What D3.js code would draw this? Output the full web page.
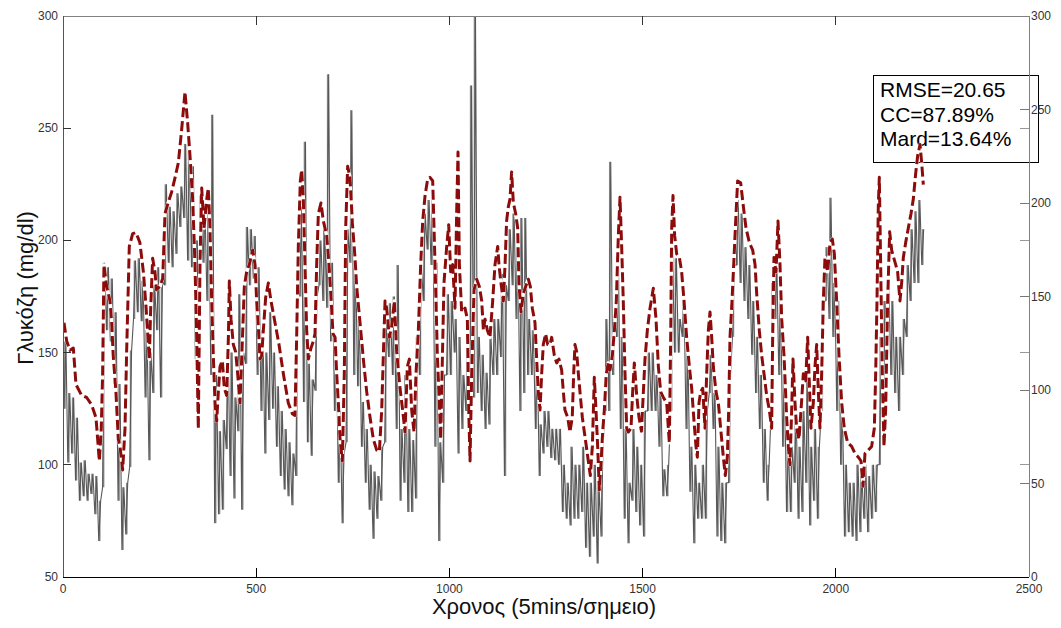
<!DOCTYPE html>
<html>
<head>
<meta charset="utf-8">
<script src="https://cdn.jsdelivr.net/npm/d3@7/dist/d3.min.js"></script>
<style>
  html, body { margin: 0; padding: 0; background: #fff; }
  svg { display: block; }
  text { font-family: Arial, "Liberation Sans", sans-serif; }
</style>
</head>
<body>
<svg id="chart" width="1061" height="628"></svg>
<script>
// Sampling step of the measured CGM trace (in samples, 5 minutes each)
const binStep = 10;

// Measured glucose: lower / upper envelope of each 10-sample bin (mg/dl)
const measuredLow = [
  125,101,105,93,84,86,84,87,78,66, 90,160,155,136,84,62,69,99,165,168,
  164,130,102,132,160,130,180,190,188,194, 206,210,191,188,147,150,190,173,140,74,
  78,80,107,95,85,115,80,145,180,183, 140,124,105,120,125,108,95,89,86,82,
  95,175,128,110,104,133,180,173,170,155, 124,92,74,110,190,140,135,108,92,80,
  67,76,84,110,148,140,116,84,92,79, 79,85,140,173,196,189,108,66,92,140,
  140,150,105,116,124,120,130,132,124,116, 118,140,140,148,95,173,180,165,124,132,
  140,140,116,95,105,108,103,102,100,79, 76,73,76,76,79,63,59,68,56,68,
  124,124,140,157,116,76,65,84,79,73, 68,124,124,124,108,86,86,124,150,150,
  157,116,88,65,76,76,76,132,116,68, 66,65,92,157,189,181,173,165,149,132,
  116,92,84,124,165,140,108,79,79,92, 76,79,92,73,84,76,124,173,165,157,
  124,100,68,70,68,66,70,76,70,76, 79,100,124,157,140,132,124,140,157,173,
  181,181,189
];
const measuredHigh = [
  155,132,130,121,101,102,96,96,95,84, 190,188,183,168,136,90,92,151,191,192,
  182,160,150,180,188,182,225,215,213,221, 224,243,243,233,200,220,215,218,256,140,
  115,120,150,150,130,176,150,206,205,202, 188,160,150,168,150,135,124,116,110,105,
  180,215,244,145,138,175,200,205,274,190, 157,124,105,205,258,190,165,128,116,100,
  97,95,108,165,172,175,189,116,140,116, 111,157,189,212,218,218,190,110,140,176,
  173,165,157,140,157,269,300,157,149,141, 157,165,165,185,180,205,212,197,210,210,
  165,160,150,118,124,124,116,116,116,100, 92,108,100,100,108,92,92,100,90,108,
  165,235,165,189,157,116,92,116,108,100, 124,150,150,140,132,98,100,197,192,165,
  173,150,108,100,92,100,124,149,132,108, 92,92,140,189,218,212,197,189,173,157,
  140,116,100,181,189,173,140,108,108,124, 108,124,140,108,116,108,173,197,219,181,
  173,124,100,92,92,100,95,100,95,100, 100,157,173,181,173,157,157,165,189,205,
  213,218,205
];

// Model prediction: [sample index, glucose mg/dl]
const predicted = [
  [2.6,163.3],[9.5,155.2],[18,151],[26.7,152],[33.6,135.8],[48.3,130.9],[61.2,130],[74,126.8],[85.4,121],[94,101.7],
  [99,116],[102.6,140.6],[106,189],[113,179.5],[121.6,173],[126,163.3],[130,148.6],[137,132.5],[143.2,111.4],[147.5,108.2],
  [154.4,97.7],[160.4,116],[164.7,150.3],[171.6,197.3],[180.3,203],[189,203.5],[199,199],[208,186],[215,170],[221,153.6],
  [223.4,147],[227,170],[232,192],[238,186],[242,178],[251,179.5],[258,183],[264,212],[272.6,217],[281.2,221.6],
  [290,228],[298.5,234.6],[307,249.2],[315.7,266.2],[322.6,252.4],[328.6,237.8],[335.6,218.4],[341.6,189.2],[346,156.8],[350.2,116],
  [354.5,189.2],[359,223.3],[365,205.5],[372,218.4],[376,223.3],[380.4,205.5],[384.8,173],[389,148.6],[393.4,127.6],[397.7,119.4],
  [402,132.5],[406.3,143.8],[412.4,146.4],[417.5,134.1],[423.6,130.9],[428,156.8],[430.5,181.9],[434.8,164.9],[440.8,153.6],[446.9,150.3],
  [452,140.6],[458,127.6],[462.4,147.1],[469.3,179.5],[475.3,186],[482.2,189.2],[490.9,195.7],[497,189.2],[501.2,173],[505.5,161.7],
  [509.8,147.1],[514.2,148.7],[518.5,160],[524.5,174.6],[531.4,181],[538.3,173],[548.7,163.3],[559,153.6],[570.3,140.6],[583,127.6],
  [593.5,122.8],[600.4,122],[604.7,156.8],[609,197.3],[614.2,226.5],[617.7,231.4],[622,218.4],[626.3,189.2],[630.6,160],[635,147.1],
  [641.8,152],[648,155.2],[652.2,158.4],[656.5,189.2],[660.8,211.9],[667.7,216.7],[673.8,208.6],[682.4,202.2],[688.4,189.2],[693.6,174.6],
  [698.8,158.4],[704,156.8],[708.3,140.6],[712.6,127.6],[717,111.4],[723,101.7],[728,140.6],[731.6,205.5],[736.7,233],[742.8,228],
  [748.8,208],[755.7,192.4],[760,179.5],[768.7,163.3],[777.3,147.1],[786,132.5],[794.6,121.2],[803.2,111.4],[811.8,106.6],[818.7,105.8],
  [824.8,124.4],[829,148.7],[833.4,173],[837.7,169.8],[844.6,156.8],[850.6,161.7],[857.5,173],[863.6,150.3],[872.2,134.1],[879,124.4],
  [885.1,114.6],[891.2,143.8],[896.4,147.1],[902.4,124.4],[908.4,114.6],[913.6,140.6],[919.7,160],[925.7,189.2],[930.9,208.6],[937,220],
  [943,226.5],[949.8,228.1],[956.8,226.5],[960.2,205.5],[965.4,173],[968.8,148.7],[974,127.6],[977.5,111.4],[981,140.6],[986,181.1],
  [993,197.3],[998.2,207],[1003.3,186],[1008.5,189.2],[1014.5,169.8],[1018.9,213.5],[1022.3,239.4],[1025.8,189.2],[1031.8,168.1],[1040.4,169.8],
  [1046.5,164.9],[1050,124.4],[1053.4,101.7],[1057.7,140.6],[1063.7,177.9],[1070.6,182.7],[1077.5,179.5],[1083.6,173],[1088,160],[1092.2,164.9],
  [1098.2,160],[1105,156.8],[1112,173],[1118,189.2],[1125,197.3],[1128.4,189],[1133.5,181],[1139.6,173],[1144,189],[1148,208.6],
  [1152.5,215],[1156.8,218.4],[1161,230.5],[1165.5,216.8],[1171.5,211.9],[1176.7,205.5],[1180,181],[1185.3,168.1],[1191.3,176.2],[1197.4,179.5],
  [1204.3,182.7],[1209.4,179.5],[1214.6,169.8],[1221.5,163.3],[1225.8,147.1],[1230,132.5],[1234.5,124.4],[1238.8,140.6],[1243,153.6],[1249,158.4],
  [1254.3,153.6],[1260.3,153.6],[1264.7,156.8],[1271.6,148.7],[1277.6,145.4],[1283.6,147.1],[1290.5,142.2],[1294.9,132.5],[1299,124.4],[1306,121.2],
  [1312,114.6],[1318,121.2],[1321.6,140.6],[1325,153.6],[1329.4,150.3],[1333.7,140.6],[1338.8,130.9],[1344,121.2],[1349.2,114.6],[1354.4,108.2],
  [1359.5,101.7],[1364.7,95.2],[1370,108.2],[1375,139],[1379.4,124.4],[1383.7,108.2],[1388,88.8],[1392.3,100],[1396.6,114.6],[1401,124.4],
  [1406,140.6],[1411.3,145.4],[1415.6,142.2],[1421.7,148.7],[1427,160],[1432,173],[1437.2,202.2],[1441.5,219.2],[1445.8,197.3],[1450,173],
  [1454.5,140.6],[1458.8,116.3],[1463,114.6],[1470,116.3],[1474.3,132.5],[1478.6,145.4],[1484.7,130.9],[1490.7,121.2],[1497,115],[1506.2,147.1],
  [1512.3,160],[1519.2,169.8],[1527.8,178.7],[1534.7,164.9],[1540.8,143.8],[1546.8,132.5],[1553.7,130],[1562.3,127.6],[1569.2,109.8],[1572.7,156.8],
  [1575.3,205.5],[1578.7,220],[1583,202],[1588.2,194],[1595.1,192.4],[1601.1,186],[1607.2,173],[1614,156.8],[1621,143.8],[1627,134.1],
  [1633,119.6],[1638.2,108.2],[1641.7,103.4],[1646,127.6],[1650.3,132.5],[1655.5,134.1],[1661.5,116.3],[1665.8,140.6],[1670.2,160],[1674.5,168.1],
  [1678.8,156.8],[1683,143.8],[1690,132.5],[1696,127.6],[1702,116.3],[1709,103.4],[1714,95.2],[1719.3,103.4],[1722.8,124.4],[1726.2,156.8],
  [1731.4,173],[1736.6,192.4],[1741.8,211.9],[1746,226.5],[1753.8,225.7],[1760.7,215.2],[1767.6,205.5],[1776.3,199],[1784.9,195.7],[1791,189.2],
  [1795.3,176.2],[1802,160],[1808.2,148.7],[1814.2,140.6],[1821.1,130.9],[1828,124.4],[1834,116.3],[1836.6,156.8],[1840,192.4],[1845.3,186],
  [1850.4,208.6],[1855.6,189.2],[1860,164.9],[1866,148.7],[1872.8,121.2],[1877,108.2],[1881.4,100],[1885.8,124.4],[1889.2,147.1],[1894.4,127.6],
  [1898.7,116.3],[1904.7,111.4],[1910,124.4],[1916,140.6],[1922,137.4],[1927.2,156.8],[1930.6,140.6],[1935.8,116.3],[1941.8,127.6],[1946.1,143.8],
  [1950.5,153.6],[1954.8,132.5],[1959,116.3],[1963.4,140.6],[1967.7,173],[1972,192.4],[1979,186],[1985,199],[1991,200.6],[1996.2,194.1],
  [2002.2,173],[2008.3,148.7],[2015.2,127.6],[2022,116.3],[2030.7,109.8],[2041,108.2],[2049.7,105],[2058.3,103.4],[2065.2,101.7],[2070.4,90.4],
  [2075.5,105],[2084.2,106.6],[2092.8,108.2],[2099.7,116.3],[2103.2,140.6],[2106.6,173],[2110,215.2],[2112.6,228.1],[2116.1,189.2],[2120.4,140.6],
  [2124.7,108.2],[2129,124.4],[2134.2,173],[2139.4,203.8],[2144.6,195.7],[2149.7,192.4],[2155,189.2],[2160,186],[2166.1,173],[2170.4,181.1],
  [2174.8,192.4],[2180.8,199],[2187.7,205.5],[2194.6,211.9],[2200.6,218.4],[2206.7,229.8],[2211.9,237.8],[2218,242.7],[2222.2,234.6],[2226.5,224.9]
];

// Axis ticks
const xTicks = [0, 500, 1000, 1500, 2000, 2500];
const yLeftTicks = [50, 100, 150, 200, 250, 300];
const yRightTicks = [0, 50, 100, 150, 200, 250, 300];

// Error metrics shown in the annotation box
const statsLines = ["RMSE=20.65", "CC=87.89%", "Mard=13.64%"];

const svg = d3.select("#chart");
const plot = { left: 63, right: 1029, top: 16, bottom: 577 };

const x = d3.scaleLinear().domain([0, 2500]).range([plot.left, plot.right]);
const yL = d3.scaleLinear().domain([50, 300]).range([plot.bottom, plot.top]);
const yR = d3.scaleLinear().domain([0, 300]).range([plot.bottom, plot.top]);

svg.append("rect").attr("width", 1061).attr("height", 628).attr("fill", "#fff");

svg.append("defs").append("clipPath").attr("id", "plotClip")
  .append("rect")
  .attr("x", plot.left).attr("y", plot.top)
  .attr("width", plot.right - plot.left).attr("height", plot.bottom - plot.top);

// Annotation box with error metrics (lines are drawn over it)
const box = svg.append("g");
box.append("rect")
  .attr("x", 873.5).attr("y", 75.5).attr("width", 165).attr("height", 87)
  .attr("fill", "#fff").attr("stroke", "#000").attr("stroke-width", 1);
statsLines.forEach((s, i) => {
  box.append("text")
    .attr("x", 880).attr("y", 97 + i * 24.5)
    .attr("font-size", 21).attr("fill", "#000")
    .text(s);
});

const data = svg.append("g").attr("clip-path", "url(#plotClip)");

// Measured trace: per-bin range bars plus a zig-zag through low and high
const line = d3.line().x(d => x(d[0])).y(d => yL(d[1]));

data.append("g").selectAll("line")
  .data(measuredLow.map((lo, i) => [i * binStep + 5, lo, measuredHigh[i]]))
  .join("line")
  .attr("x1", d => x(d[0])).attr("x2", d => x(d[0]))
  .attr("y1", d => yL(d[1])).attr("y2", d => yL(d[2]))
  .attr("stroke", "#858585").attr("stroke-width", 1.6);

const measuredPts = [];
measuredLow.forEach((lo, i) => {
  const t0 = i * binStep;
  measuredPts.push([t0 + 2.5, lo]);
  measuredPts.push([t0 + 7.5, measuredHigh[i]]);
});

data.append("path")
  .attr("d", line(measuredPts))
  .attr("fill", "none")
  .attr("stroke", "#575757")
  .attr("stroke-width", 1.1)
  .attr("stroke-linejoin", "miter");

// Prediction: white halo under a dark red dashed line
data.append("path")
  .attr("d", line(predicted))
  .attr("fill", "none")
  .attr("stroke", "#fff")
  .attr("stroke-width", 3.5)
  .attr("stroke-linejoin", "round");

data.append("path")
  .attr("d", line(predicted))
  .attr("fill", "none")
  .attr("stroke", "#8c0c0c")
  .attr("stroke-width", 3)
  .attr("stroke-dasharray", "10,4")
  .attr("stroke-linejoin", "round");

// Frame lines
const frame = svg.append("g").attr("shape-rendering", "crispEdges");
frame.append("line").attr("x1", plot.left).attr("x2", plot.right)
  .attr("y1", plot.top).attr("y2", plot.top).attr("stroke", "#808080");
frame.append("line").attr("x1", plot.right).attr("x2", plot.right)
  .attr("y1", plot.top).attr("y2", plot.bottom).attr("stroke", "#808080");
frame.append("line").attr("x1", plot.left).attr("x2", plot.left)
  .attr("y1", plot.top).attr("y2", plot.bottom).attr("stroke", "#555");
frame.append("line").attr("x1", plot.left).attr("x2", plot.right)
  .attr("y1", plot.bottom).attr("y2", plot.bottom).attr("stroke", "#000");

// Bottom and top x ticks (pointing inward)
const tickLen = 9;
xTicks.slice(1, -1).forEach(t => {
  frame.append("line").attr("x1", x(t)).attr("x2", x(t))
    .attr("y1", plot.bottom).attr("y2", plot.bottom - tickLen).attr("stroke", "#000");
  frame.append("line").attr("x1", x(t)).attr("x2", x(t))
    .attr("y1", plot.top).attr("y2", plot.top + tickLen).attr("stroke", "#333");
});

// Left axis ticks, mirrored faintly on the right edge
yLeftTicks.slice(1, -1).forEach(v => {
  frame.append("line").attr("x1", plot.left).attr("x2", plot.left + 8)
    .attr("y1", yL(v)).attr("y2", yL(v)).attr("stroke", "#333");
  frame.append("line").attr("x1", plot.right).attr("x2", plot.right - 9)
    .attr("y1", yL(v)).attr("y2", yL(v)).attr("stroke", "#999");
});
// Right axis ticks
yRightTicks.slice(1, -1).forEach(v => {
  frame.append("line").attr("x1", plot.right).attr("x2", plot.right - 9)
    .attr("y1", yR(v)).attr("y2", yR(v)).attr("stroke", "#777");
});

// Tick labels
const labels = svg.append("g").attr("font-size", 12).attr("fill", "#333");
xTicks.forEach(t => {
  labels.append("text").attr("x", x(t)).attr("y", plot.bottom + 16)
    .attr("text-anchor", "middle").text(t);
});
yLeftTicks.forEach(v => {
  labels.append("text").attr("x", plot.left - 5).attr("y", yL(v) + 4)
    .attr("text-anchor", "end").text(v);
});
yRightTicks.forEach(v => {
  labels.append("text").attr("x", plot.right + 2).attr("y", yR(v) + 4)
    .attr("text-anchor", "start").text(v);
});

// Axis titles
svg.append("text")
  .attr("x", 544).attr("y", 614)
  .attr("text-anchor", "middle").attr("font-size", 22).attr("fill", "#111")
  .text("Χρονος (5mins/σημειο)");

svg.append("text")
  .attr("transform", "translate(33,288) rotate(-90)")
  .attr("text-anchor", "middle").attr("font-size", 22).attr("fill", "#111")
  .text("Γλυκόζη (mg/dl)");
</script>
</body>
</html>
